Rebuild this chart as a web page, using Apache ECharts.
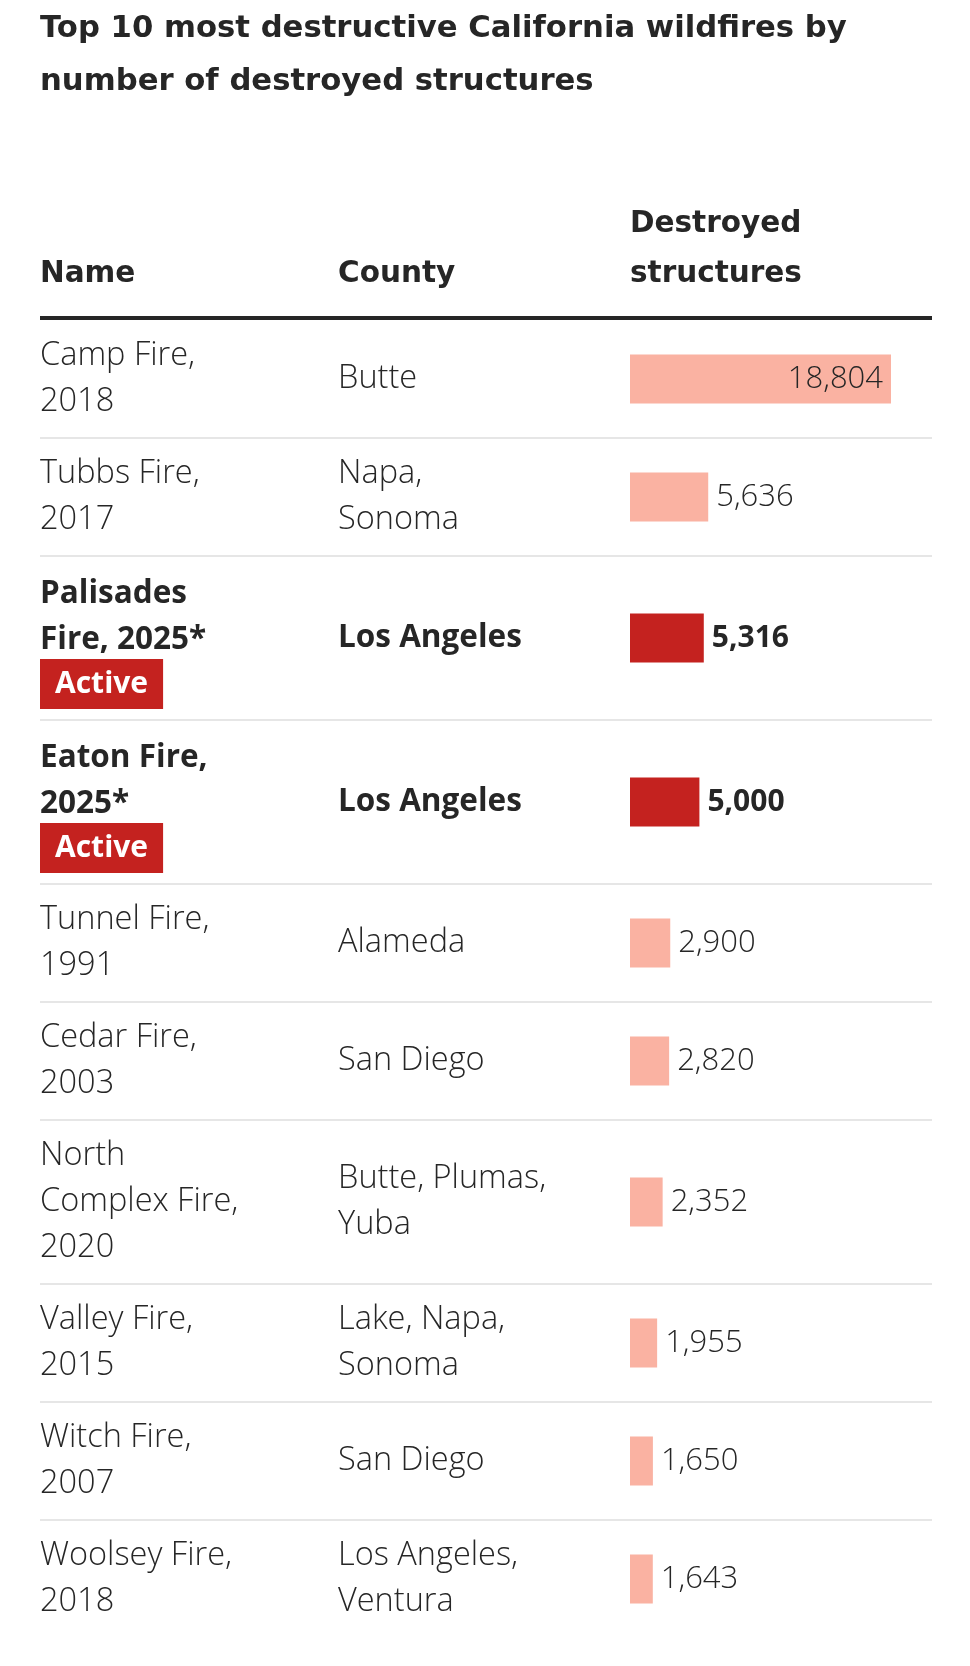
<!DOCTYPE html>
<html><head><meta charset="utf-8">
<script src="https://cdn.jsdelivr.net/npm/echarts@6/dist/echarts.min.js"></script>
<style>html,body{margin:0;padding:0;background:#fff}#c{width:970px;height:1666px}</style>
</head><body><div id="c"></div>
<script>
// ---- data ----
const titleText = 'Top 10 most destructive California wildfires by\nnumber of destroyed structures';
const headers = ['Name', 'County', 'Destroyed\nstructures'];
const fireNames = ['Camp Fire,\n2018', 'Tubbs Fire,\n2017', 'Palisades\nFire, 2025*', 'Eaton Fire,\n2025*',
  'Tunnel Fire,\n1991', 'Cedar Fire,\n2003', 'North\nComplex Fire,\n2020', 'Valley Fire,\n2015',
  'Witch Fire,\n2007', 'Woolsey Fire,\n2018'];
const counties = ['Butte', 'Napa,\nSonoma', 'Los Angeles', 'Los Angeles', 'Alameda', 'San Diego',
  'Butte, Plumas,\nYuba', 'Lake, Napa,\nSonoma', 'San Diego', 'Los Angeles,\nVentura'];
const destroyed = [18804, 5636, 5316, 5000, 2900, 2820, 2352, 1955, 1650, 1643];
const active = [false, false, true, true, false, false, false, false, false, false];
const activeLabel = 'Active';

// ---- layout / style ----
const LEFT = 40, RIGHT = 932, COUNTY_X = 338, BAR_X = 630, BAR_W = 261;
const TABLE_TOP = 320, LINE_H = 46, ROW_PAD = 26;
const TEXT = '#262626', PINK = '#fab2a2', RED = '#c4221f', SEP = '#e6e6e6';
const BODY_FONT = '"Open Sans", "Liberation Sans", sans-serif';
const HEAD_FONT = '"DejaVu Sans", sans-serif';
const maxVal = Math.max(...destroyed);

const rich = {
  r: { fontFamily: BODY_FONT, fontSize: 32.5, fontWeight: 300, color: TEXT, lineHeight: LINE_H },
  b: { fontFamily: BODY_FONT, fontSize: 31.5, fontWeight: 'bold', color: TEXT, lineHeight: LINE_H },
  badge: { fontFamily: BODY_FONT, fontSize: 30, fontWeight: 'bold', color: '#fff', backgroundColor: RED,
    lineHeight: 42, height: 42, padding: [4, 15, 4, 15] }
};
const fmtLines = (txt, st) => txt.split('\n').map(l => '{' + st + '|' + l + '}').join('\n');

const grids = [], xAxes = [], yAxes = [], series = [], graphics = [];
let y = TABLE_TOP;
fireNames.forEach((name, i) => {
  const nLines = Math.max(name.split('\n').length + (active[i] ? 1 : 0), counties[i].split('\n').length);
  const h = ROW_PAD + LINE_H * nLines;
  const st = active[i] ? 'b' : 'r';
  grids.push({ left: BAR_X, width: BAR_W, top: y, height: h, outerBoundsMode: 'none', containLabel: false });
  xAxes.push({ type: 'value', gridIndex: i, min: 0, max: maxVal, show: false });
  yAxes.push({
    type: 'category', gridIndex: i, position: 'left', data: [name],
    axisLine: { show: false }, axisTick: { show: false }, splitLine: { show: false },
    axisLabel: {
      margin: BAR_X - LEFT, align: 'left', rich: rich,
      formatter: v => fmtLines(v, st) + (active[i] ? '\n{badge|' + activeLabel + '}' : '')
    }
  });
  yAxes.push({
    type: 'category', gridIndex: i, position: 'left', offset: 0, data: [counties[i]],
    axisLine: { show: false }, axisTick: { show: false }, splitLine: { show: false },
    axisLabel: { margin: BAR_X - COUNTY_X, align: 'left', rich: rich, formatter: v => fmtLines(v, st) }
  });
  const inside = destroyed[i] > maxVal / 2;
  series.push({
    type: 'bar', xAxisIndex: i, yAxisIndex: 2 * i, barWidth: 49,
    data: [destroyed[i]],
    itemStyle: { color: active[i] ? RED : PINK },
    label: {
      show: true, position: inside ? 'insideRight' : 'right', distance: 8,
      fontFamily: BODY_FONT, fontSize: active[i] ? 30 : 31, fontWeight: active[i] ? 'bold' : 300, color: TEXT,
      formatter: p => p.value.toLocaleString('en-US')
    }
  });
  y += h;
  if (i < fireNames.length - 1) {
    graphics.push({ type: 'line', shape: { x1: LEFT, y1: y, x2: RIGHT, y2: y },
      style: { stroke: SEP, lineWidth: 2 }, silent: true });
  }
});
graphics.push({ type: 'line', shape: { x1: LEFT, y1: TABLE_TOP - 2, x2: RIGHT, y2: TABLE_TOP - 2 },
  style: { stroke: TEXT, lineWidth: 4 }, silent: true });

const headStyle = { fontFamily: HEAD_FONT, fontWeight: 'bold', fontSize: 29.5, lineHeight: 50, color: TEXT };
const option = {
  animation: false,
  backgroundColor: '#fff',
  title: [
    { text: titleText, left: LEFT, top: 3, padding: 0,
      textStyle: { fontFamily: HEAD_FONT, fontWeight: 'bold', fontSize: 30.7, lineHeight: 53, color: TEXT } },
    { text: headers[0], left: LEFT, top: 249, padding: 0, textStyle: headStyle },
    { text: headers[1], left: COUNTY_X, top: 249, padding: 0, textStyle: headStyle },
    { text: headers[2], left: BAR_X, top: 199, padding: 0, textStyle: headStyle }
  ],
  grid: grids, xAxis: xAxes, yAxis: yAxes, series: series,
  graphic: graphics
};
const chart = echarts.init(document.getElementById('c'), null, { renderer: 'canvas' });
chart.setOption(option);
</script>
</body></html>
